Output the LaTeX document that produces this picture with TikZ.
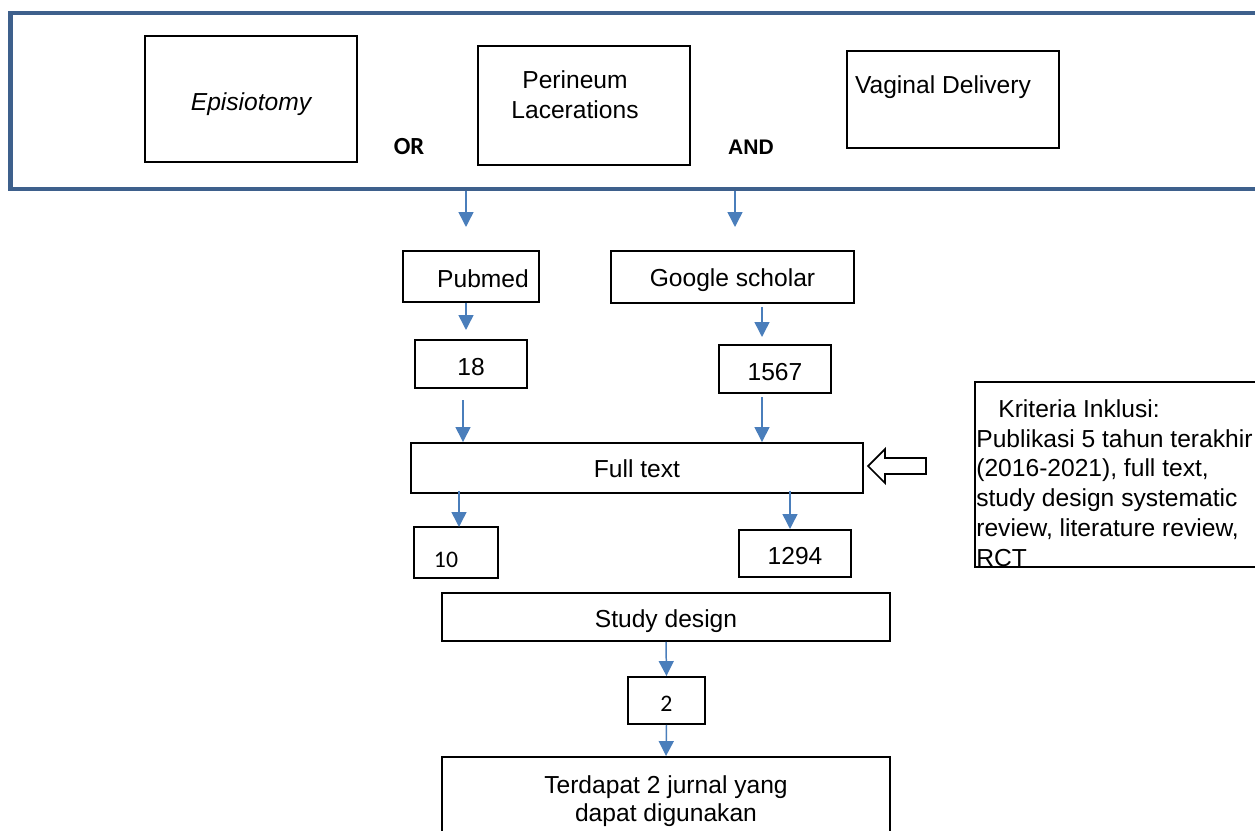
\documentclass[tikz,border=0pt]{standalone}
\usepackage{fontspec}
\setmainfont{Liberation Sans}
\newfontfamily\calibrifont{Carlito}
\usetikzlibrary{arrows.meta}
\definecolor{frameblue}{RGB}{62,96,140}
\definecolor{arrowblue}{RGB}{74,126,187}

\begin{document}
\begin{tikzpicture}[x=0.02cm, y=-0.02cm,
    box/.style={draw, line width=1.1pt, rectangle, inner sep=0pt, align=center, font=\fontsize{14}{17}\selectfont},
    onebox/.style={box, text height=13pt, text depth=0pt},
    txt/.style={inner sep=0pt, align=center, font=\fontsize{14}{17}\selectfont},
    num/.style={font=\calibrifont\fontsize{13.5}{16}\selectfont},
    flow/.style={draw=arrowblue, line width=0.85pt, -{Triangle[length=8.5pt, width=8.5pt]}, arrowblue}]
    \useasboundingbox (0,0) rectangle (1255,831);

    % Search frame
    \node[draw=frameblue, line width=2.8pt, minimum width=25.2cm, minimum height=3.52cm] at (640,101) (frame) {};

    % Keywords
    \node[onebox, minimum width=4.24cm, minimum height=2.52cm, font=\fontsize{14}{17}\selectfont\itshape] at (251,99) (episiotomy) {Episiotomy};
    \node[box, minimum width=4.24cm, minimum height=2.38cm] at (584,105.5) (perineum) {};
    \node[txt] at (575,95) (perineumtext) {Perineum\\Lacerations};
    \node[box, minimum width=4.24cm, minimum height=1.94cm] at (953,99.5) (vaginal) {};
    \node[txt] at (943,87) (vaginaltext) {Vaginal Delivery};
    \node[font=\calibrifont\bfseries\fontsize{14}{16}\selectfont] at (409,147) (orword) {OR};
    \node[font=\bfseries\fontsize{12}{15}\selectfont] at (751,147) (andword) {AND};

    % Databases
    \node[onebox, minimum width=2.72cm, minimum height=1.02cm] at (471,276.5) (pubmed) {\hspace{0.48cm}Pubmed};
    \node[onebox, text height=11pt, minimum width=4.86cm, minimum height=1.04cm] at (732.5,277) (google) {Google scholar};
    \node[onebox, minimum width=2.24cm, minimum height=0.96cm] at (471,364) (pubmedn) {18};
    \node[onebox, minimum width=2.24cm, minimum height=0.96cm] at (775,369) (googlen) {1567};

    % Screening
    \node[onebox, text height=11pt, minimum width=9.04cm, minimum height=1cm] at (637,468) (fulltext) {Full text};
    \node[box, minimum width=1.68cm, minimum height=1.02cm] at (456,552.5) (pubmedft) {};
    \node[num] at (446,560) (pubmedfttext) {10};
    \node[onebox, minimum width=2.24cm, minimum height=0.94cm] at (795,553.5) (googleft) {1294};
    \node[onebox, text height=11.5pt, minimum width=8.96cm, minimum height=0.96cm] at (666,617) (design) {Study design};
    \node[onebox, num, text height=12pt, minimum width=1.54cm, minimum height=0.94cm] at (666.5,700.5) (included) {2};
    \node[box, minimum width=8.96cm, minimum height=1.76cm, font=\fontsize{14}{16}\selectfont] at (666,801) (result) {Terdapat 2 jurnal yang\\dapat digunakan};

    % Inclusion criteria
    \node[box, minimum width=5.9cm, minimum height=3.7cm] at (1122.5,474.5) (criteria) {};
    \node[txt, align=left, anchor=north west] at (976,399) (criteriatext) {\hspace*{0.44cm}Kriteria Inklusi:\\Publikasi 5 tahun terakhir\\(2016-2021), full text,\\study design systematic\\review, literature review,\\RCT};
    \draw[line width=1pt] (868,466) -- (885,449) -- (885,458) -- (926,458) -- (926,474) -- (885,474) -- (885,483) -- cycle;

    % Arrows
    \coordinate (q1) at (466,227);
    \coordinate (q2) at (735,227);
    \coordinate (q3) at (466,330);
    \coordinate (q4) at (762,337);
    \coordinate (q5) at (463,400);
    \coordinate (q6) at (762,397);
    \coordinate (q7) at (459,527);
    \coordinate (q8) at (790,529);
    \draw[flow] (frame.south -| q1) -- (q1);
    \draw[flow] (frame.south -| q2) -- (q2);
    \draw[flow] (pubmed.south -| q3) -- (q3);
    \draw[flow] ([yshift=-0.06cm]google.south -| q4) -- (q4);
    \draw[flow] (q5) -- (fulltext.north -| q5);
    \draw[flow] (q6) -- (fulltext.north -| q6);
    \draw[flow] ([yshift=0.06cm]fulltext.south -| q7) -- (q7);
    \draw[flow] ([yshift=0.06cm]fulltext.south -| q8) -- (q8);
    \draw[flow] (design.south) -- (included.north);
    \draw[flow] (included.south) -- (result.north);
\end{tikzpicture}
\end{document}
